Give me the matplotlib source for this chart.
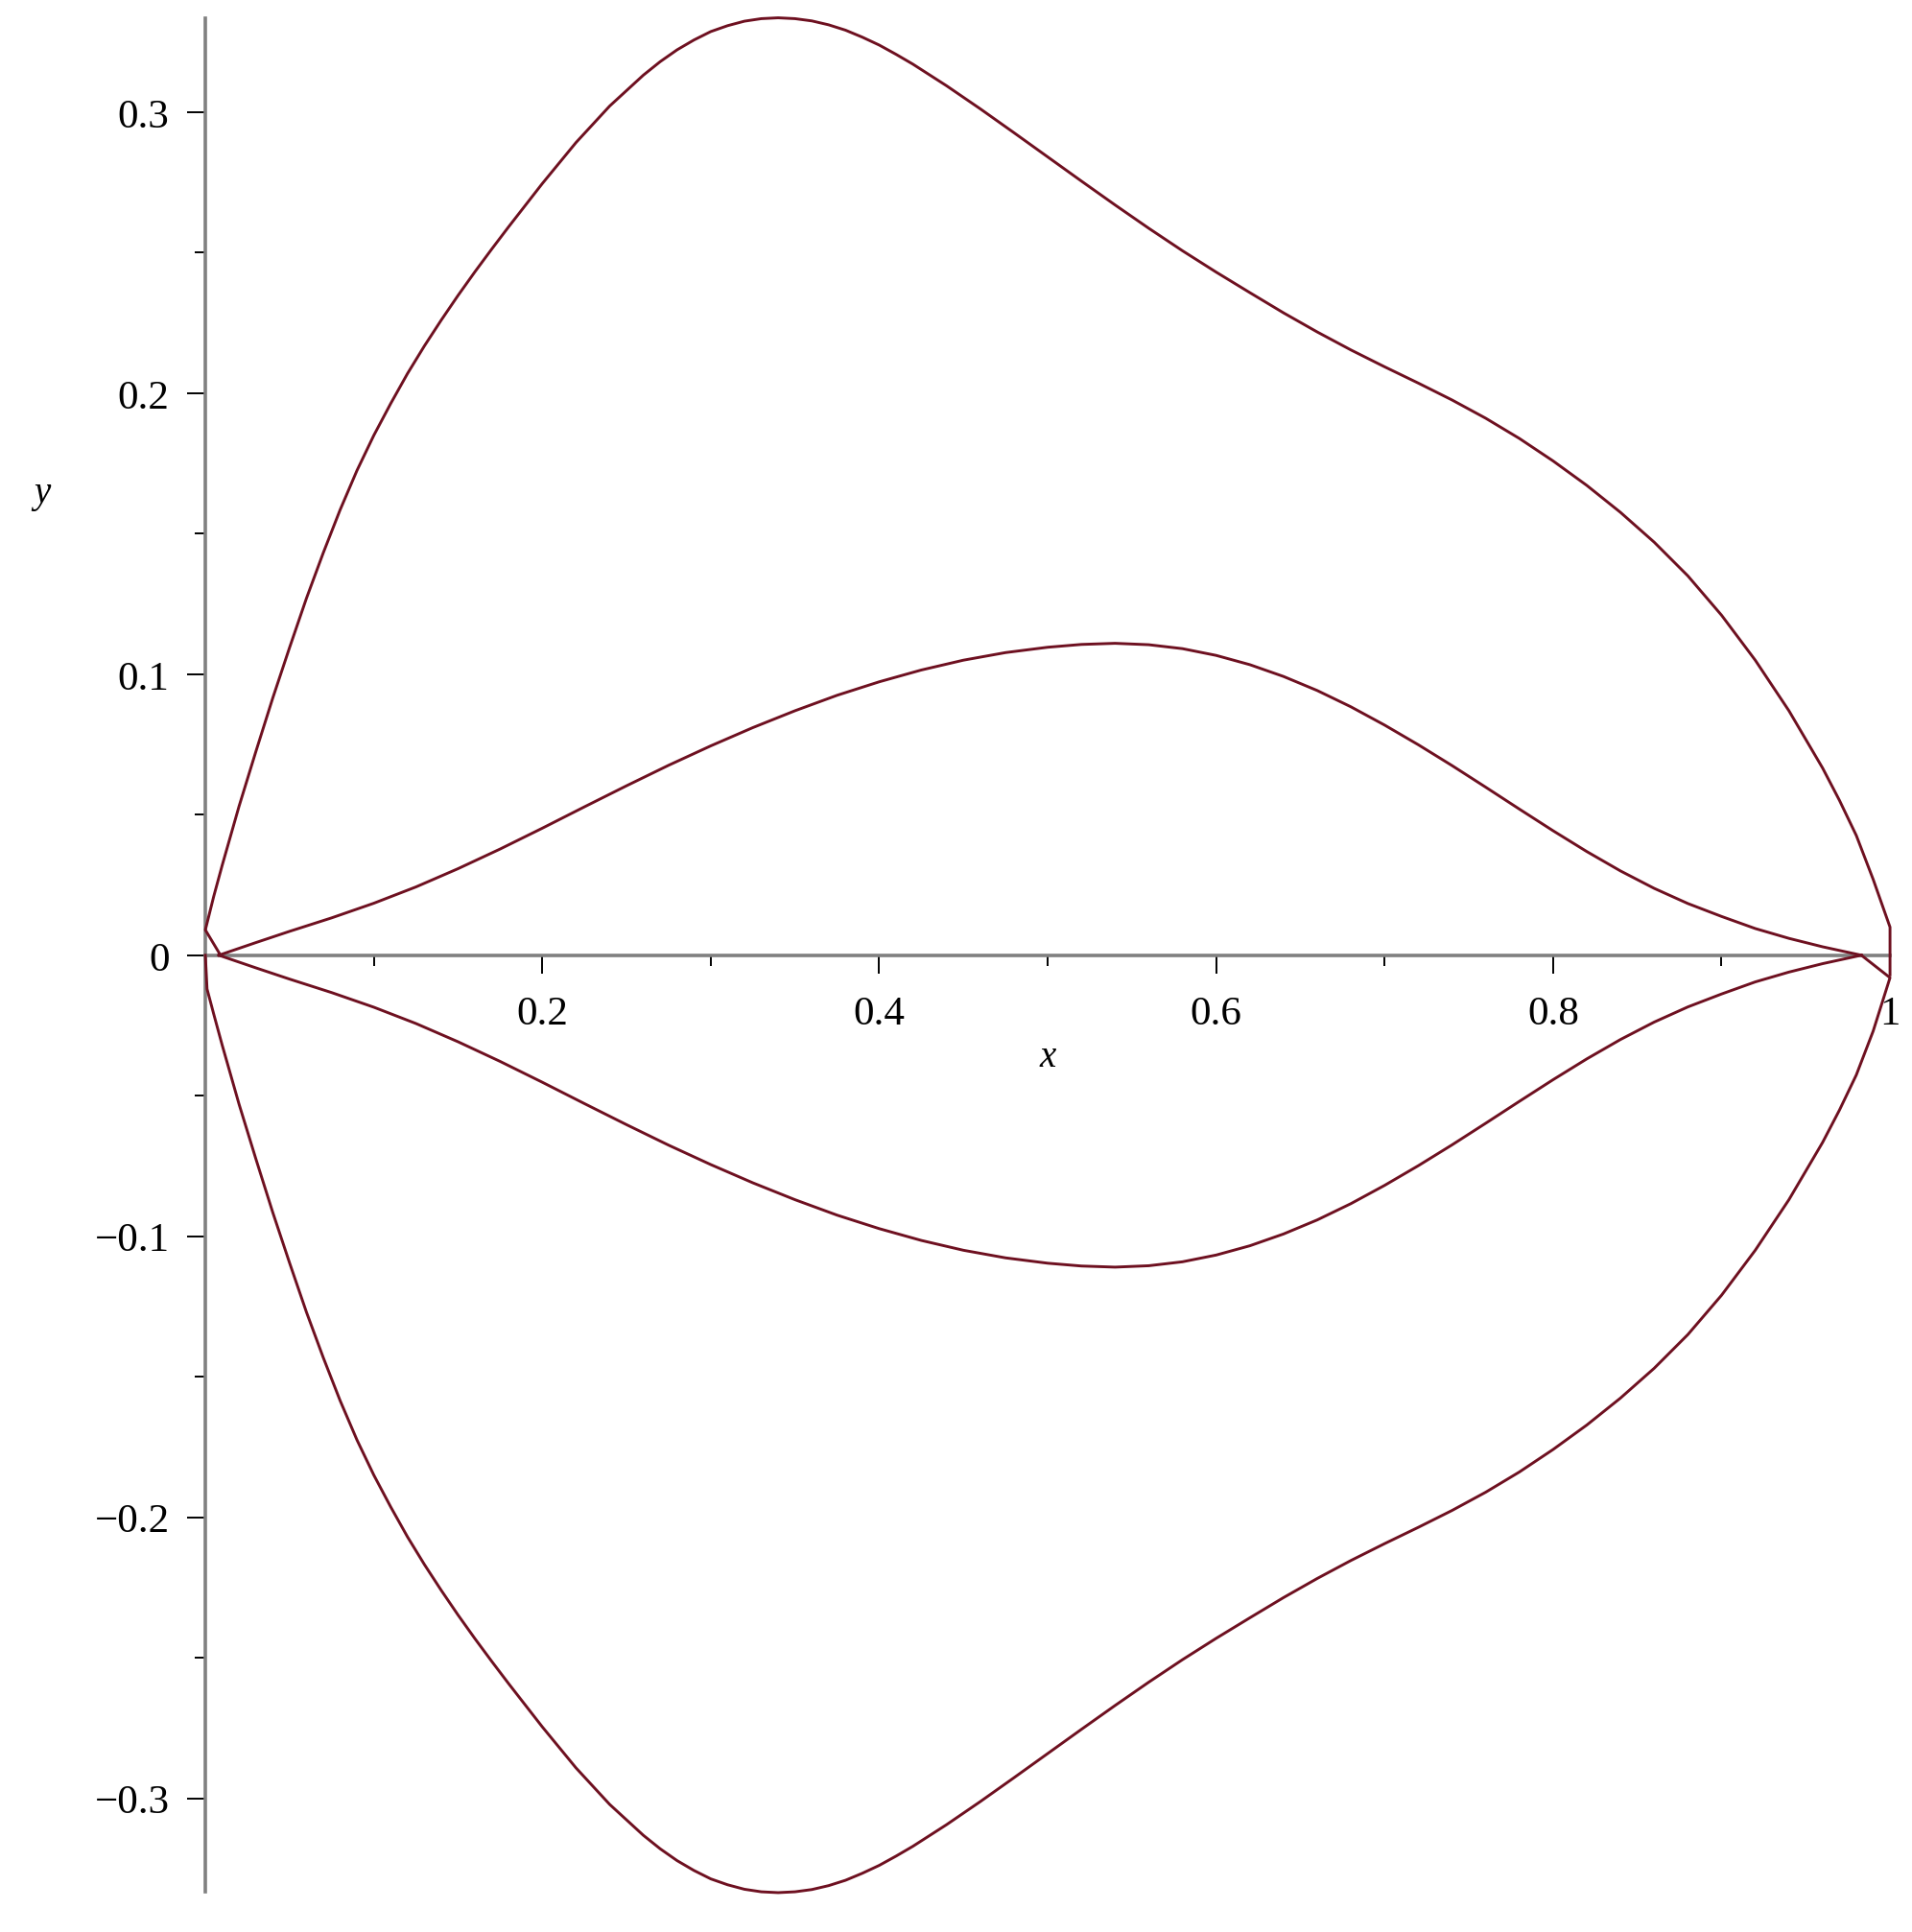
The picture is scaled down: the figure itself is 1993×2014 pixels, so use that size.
import matplotlib
matplotlib.use('Agg')
import matplotlib.pyplot as plt

plt.rcParams['font.family'] = ['Liberation Serif', 'DejaVu Serif']

# upper outer curve
outer_up_x = [0.009, 0.000, 0.005, 0.010, 0.020, 0.030, 0.040, 0.050, 0.060, 0.070,
              0.080, 0.090, 0.100, 0.110, 0.120, 0.130, 0.140, 0.150, 0.160, 0.170,
              0.180, 0.200, 0.220, 0.240, 0.260, 0.270, 0.280, 0.290, 0.300, 0.310,
              0.320, 0.330, 0.340, 0.350, 0.360, 0.370, 0.380, 0.390, 0.400, 0.410,
              0.420, 0.440, 0.460, 0.480, 0.500, 0.520, 0.540, 0.560, 0.580, 0.600,
              0.620, 0.640, 0.660, 0.680, 0.700, 0.720, 0.740, 0.760, 0.780, 0.800,
              0.820, 0.840, 0.860, 0.880, 0.900, 0.920, 0.940, 0.960, 0.970, 0.980,
              0.990, 1.000, 1.000]
outer_up_y = [0.000, 0.009, 0.021, 0.032, 0.053, 0.0725, 0.0915, 0.1095, 0.127, 0.1432,
              0.1585, 0.1725, 0.185, 0.1963, 0.207, 0.2168, 0.226, 0.2348, 0.2432, 0.2513,
              0.2592, 0.2746, 0.2892, 0.3022, 0.3132, 0.3180, 0.3222, 0.3257, 0.3287, 0.3308,
              0.3324, 0.3333, 0.3336, 0.3333, 0.3325, 0.3311, 0.3292, 0.3267, 0.3239, 0.3206,
              0.3171, 0.3094, 0.3012, 0.2927, 0.2841, 0.2755, 0.267, 0.2587, 0.2507, 0.2431,
              0.2358, 0.2286, 0.2218, 0.2154, 0.2094, 0.2036, 0.1976, 0.1911, 0.1839, 0.1759,
              0.1672, 0.1576, 0.1470, 0.1350, 0.1210, 0.1050, 0.0870, 0.0666, 0.0551, 0.0426,
              0.0270, 0.0100, -0.007]

# lower outer curve
outer_lo_x = [0.000, 0.001, 0.005, 0.010, 0.020, 0.030, 0.040, 0.050, 0.060, 0.070,
              0.080, 0.090, 0.100, 0.110, 0.120, 0.130, 0.140, 0.150, 0.160, 0.170,
              0.180, 0.200, 0.220, 0.240, 0.260, 0.270, 0.280, 0.290, 0.300, 0.310,
              0.320, 0.330, 0.340, 0.350, 0.360, 0.370, 0.380, 0.390, 0.400, 0.410,
              0.420, 0.440, 0.460, 0.480, 0.500, 0.520, 0.540, 0.560, 0.580, 0.600,
              0.620, 0.640, 0.660, 0.680, 0.700, 0.720, 0.740, 0.760, 0.780, 0.800,
              0.820, 0.840, 0.860, 0.880, 0.900, 0.920, 0.940, 0.960, 0.970, 0.980,
              0.990, 1.000, 0.983]
outer_lo_y = [0.000, -0.012, -0.021, -0.032, -0.053, -0.0725, -0.0915, -0.1095, -0.127, -0.1432,
              -0.1585, -0.1725, -0.185, -0.1963, -0.207, -0.2168, -0.226, -0.2348, -0.2432, -0.2513,
              -0.2592, -0.2746, -0.2892, -0.3022, -0.3132, -0.3180, -0.3222, -0.3257, -0.3287, -0.3308,
              -0.3324, -0.3333, -0.3336, -0.3333, -0.3325, -0.3311, -0.3292, -0.3267, -0.3239, -0.3206,
              -0.3171, -0.3094, -0.3012, -0.2927, -0.2841, -0.2755, -0.267, -0.2587, -0.2507, -0.2431,
              -0.2358, -0.2286, -0.2218, -0.2154, -0.2094, -0.2036, -0.1976, -0.1911, -0.1839, -0.1759,
              -0.1672, -0.1576, -0.1470, -0.1350, -0.1210, -0.1050, -0.0870, -0.0666, -0.0551, -0.0426,
              -0.0270, -0.008, 0.000]

# upper inner curve
inner_up_x = [0.008, 0.030, 0.050, 0.075, 0.100, 0.125, 0.150, 0.175, 0.200, 0.225,
              0.250, 0.275, 0.300, 0.325, 0.350, 0.375, 0.400, 0.425, 0.450, 0.475,
              0.500, 0.520, 0.540, 0.560, 0.580, 0.600, 0.620, 0.640, 0.660, 0.680,
              0.700, 0.720, 0.740, 0.760, 0.780, 0.800, 0.820, 0.840, 0.860, 0.880,
              0.900, 0.920, 0.940, 0.960, 0.983]
inner_up_y = [0.000, 0.0045, 0.0085, 0.0133, 0.0185, 0.0243, 0.0308, 0.0378, 0.0452, 0.0528,
              0.0603, 0.0676, 0.0745, 0.0810, 0.0870, 0.0925, 0.0973, 0.1015, 0.1050, 0.1077,
              0.1096, 0.1106, 0.1110, 0.1105, 0.1091, 0.1067, 0.1034, 0.0992, 0.0942, 0.0884,
              0.0819, 0.0749, 0.0675, 0.0598, 0.0520, 0.0443, 0.0369, 0.0300, 0.0238, 0.0184,
              0.0138, 0.0095, 0.0060, 0.0030, 0.000]

# lower inner curve
inner_lo_x = [0.008, 0.030, 0.050, 0.075, 0.100, 0.125, 0.150, 0.175, 0.200, 0.225,
              0.250, 0.275, 0.300, 0.325, 0.350, 0.375, 0.400, 0.425, 0.450, 0.475,
              0.500, 0.520, 0.540, 0.560, 0.580, 0.600, 0.620, 0.640, 0.660, 0.680,
              0.700, 0.720, 0.740, 0.760, 0.780, 0.800, 0.820, 0.840, 0.860, 0.880,
              0.900, 0.920, 0.940, 0.960, 0.983]
inner_lo_y = [0.000, -0.0045, -0.0085, -0.0133, -0.0185, -0.0243, -0.0308, -0.0378, -0.0452, -0.0528,
              -0.0603, -0.0676, -0.0745, -0.0810, -0.0870, -0.0925, -0.0973, -0.1015, -0.1050, -0.1077,
              -0.1096, -0.1106, -0.1110, -0.1105, -0.1091, -0.1067, -0.1034, -0.0992, -0.0942, -0.0884,
              -0.0819, -0.0749, -0.0675, -0.0598, -0.0520, -0.0443, -0.0369, -0.0300, -0.0238, -0.0184,
              -0.0138, -0.0095, -0.0060, -0.0030, 0.000]

x_major = [0.2, 0.4, 0.6, 0.8, 1.0]
x_labels = ['0.2', '0.4', '0.6', '0.8', '1']
x_minor = [0.1, 0.3, 0.5, 0.7, 0.9]
y_major = [-0.3, -0.2, -0.1, 0.0, 0.1, 0.2, 0.3]
y_labels = ['\u22120.3', '\u22120.2', '\u22120.1', '0', '0.1', '0.2', '0.3']
y_minor = [-0.25, -0.15, -0.05, 0.05, 0.15, 0.25]

fig = plt.figure(figsize=(19.93, 20.15), dpi=100)
ax = fig.add_axes([0.1074, 0.0208, 0.8811, 0.9692])

col = '#6e1020'
for xs, ys in [(outer_up_x, outer_up_y), (outer_lo_x, outer_lo_y),
               (inner_up_x, inner_up_y), (inner_lo_x, inner_lo_y)]:
    ax.plot(xs, ys, color=col, lw=2.1, clip_on=False, zorder=3,
            solid_joinstyle='round')

ax.set_xlim(0, 1)
ax.set_ylim(-0.3333, 0.3334)

ax.spines['top'].set_visible(False)
ax.spines['right'].set_visible(False)
ax.spines['left'].set_position(('data', 0))
ax.spines['bottom'].set_position(('data', 0))
for s in ('left', 'bottom'):
    ax.spines[s].set_color('#808080')
    ax.spines[s].set_linewidth(2.6)

ax.set_xticks(x_major, x_labels)
ax.set_xticks(x_minor, minor=True)
ax.set_yticks(y_major, y_labels)
ax.set_yticks(y_minor, minor=True)
ax.tick_params(which='major', length=14, width=1.4, color='black', labelsize=31)
ax.tick_params(which='minor', length=8, width=1.4, color='black')
ax.tick_params(axis='x', which='major', pad=16)
ax.tick_params(axis='y', which='major', pad=13)

ax.text(0.5, -0.036, 'x', style='italic', fontsize=28, ha='center', va='center')
ax.text(-0.097, 0.1645, 'y', style='italic', fontsize=28, ha='center', va='center',
        clip_on=False)

fig.savefig('out.png', dpi=100)
